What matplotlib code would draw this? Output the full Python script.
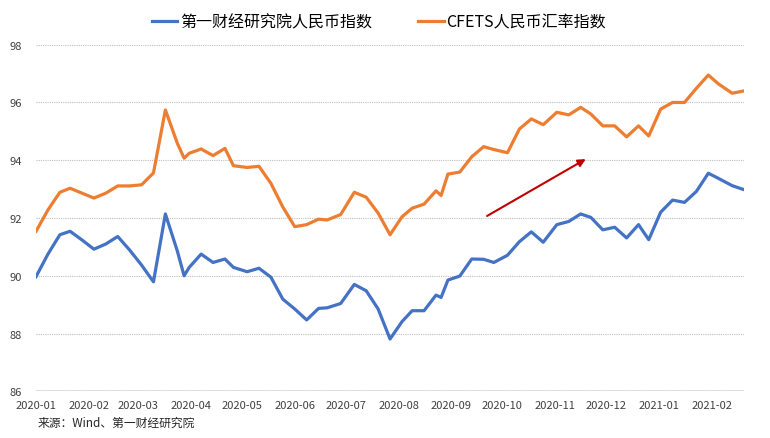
"""
人民币指数走势对比图
第一财经研究院人民币指数 vs CFETS人民币汇率指数
"""

import matplotlib
matplotlib.use('Agg')
import matplotlib.pyplot as plt
import matplotlib.dates as mdates
import pandas as pd

plt.rcParams['font.family'] = ['Noto Sans CJK SC', 'DejaVu Sans']

dates = [
    '2020-01-02', '2020-01-09', '2020-01-16', '2020-01-22', '2020-01-29',
    '2020-02-05', '2020-02-12', '2020-02-19', '2020-02-26', '2020-03-04',
    '2020-03-11', '2020-03-18', '2020-03-25', '2020-03-29', '2020-04-01',
    '2020-04-08', '2020-04-15', '2020-04-22', '2020-04-27', '2020-05-05',
    '2020-05-12', '2020-05-19', '2020-05-26', '2020-06-02', '2020-06-09',
    '2020-06-16', '2020-06-21', '2020-06-29', '2020-07-07', '2020-07-14',
    '2020-07-21', '2020-07-28', '2020-08-04', '2020-08-10', '2020-08-17',
    '2020-08-24', '2020-08-27', '2020-08-31', '2020-09-07', '2020-09-14',
    '2020-09-21', '2020-09-27', '2020-10-05', '2020-10-12', '2020-10-19',
    '2020-10-26', '2020-11-03', '2020-11-10', '2020-11-17', '2020-11-23',
    '2020-11-30', '2020-12-07', '2020-12-14', '2020-12-21', '2020-12-27',
    '2021-01-03', '2021-01-10', '2021-01-17', '2021-01-24', '2021-01-31',
    '2021-02-06', '2021-02-14', '2021-02-21',
]

# 第一财经研究院人民币指数
yicai_index = [
    89.97, 90.75, 91.42, 91.54, 91.24, 90.92, 91.10, 91.36, 90.89, 90.37,
    89.79, 92.14, 90.86, 90.00, 90.29, 90.75, 90.46, 90.58, 90.29, 90.14,
    90.26, 89.95, 89.19, 88.85, 88.47, 88.87, 88.89, 89.04, 89.70, 89.48,
    88.85, 87.81, 88.41, 88.79, 88.79, 89.33, 89.25, 89.85, 89.99, 90.58,
    90.57, 90.46, 90.71, 91.18, 91.52, 91.16, 91.77, 91.88, 92.14, 92.02,
    91.59, 91.68, 91.31, 91.77, 91.25, 92.20, 92.62, 92.54, 92.92, 93.55,
    93.37, 93.12, 92.98,
]

# CFETS人民币汇率指数
cfets_index = [
    91.54, 92.28, 92.89, 93.03, 92.86, 92.69, 92.86, 93.11, 93.11, 93.15,
    93.56, 95.74, 94.59, 94.07, 94.24, 94.39, 94.16, 94.41, 93.81, 93.75,
    93.79, 93.20, 92.38, 91.70, 91.77, 91.96, 91.93, 92.12, 92.89, 92.72,
    92.17, 91.42, 92.04, 92.34, 92.48, 92.94, 92.78, 93.52, 93.59, 94.12,
    94.47, 94.37, 94.26, 95.08, 95.43, 95.23, 95.66, 95.57, 95.83, 95.60,
    95.19, 95.19, 94.81, 95.19, 94.84, 95.77, 96.00, 96.00, 96.49, 96.95,
    96.64, 96.32, 96.40,
]

series_names = ['第一财经研究院人民币指数', 'CFETS人民币汇率指数']

# 趋势箭头（起点、终点）
arrow_dates = ['2020-09-23', '2020-11-20']
arrow_values = [92.07, 94.04]

y_ticks = [86, 88, 90, 92, 94, 96, 98]
source_text = '来源：Wind、第一财经研究院'


def main():
    x = pd.to_datetime(dates)

    fig = plt.figure(figsize=(7.7, 4.39), dpi=100)
    ax = fig.add_axes([0.0468, 0.1064, 0.9195, 0.7895])

    ax.plot(x, yicai_index, color='#4472C4', linewidth=2.3,
            label=series_names[0], solid_joinstyle='round')
    ax.plot(x, cfets_index, color='#ED7D31', linewidth=2.3,
            label=series_names[1], solid_joinstyle='round')

    # 红色趋势箭头
    a0, a1 = pd.to_datetime(arrow_dates)
    ax.annotate('', xy=(a1, arrow_values[1]), xytext=(a0, arrow_values[0]),
                arrowprops=dict(arrowstyle='-|>', color='#C00000', lw=1.5,
                                mutation_scale=11, shrinkA=0, shrinkB=0))

    # 坐标轴
    ax.set_xlim(x[0], x[-1])
    ax.set_ylim(86, 98)
    ax.set_yticks(y_ticks)
    ax.yaxis.grid(True, linestyle=(0, (1, 1)), color='#BFBFBF', linewidth=0.8)
    ax.axhline(86, color='#D9D9D9', linewidth=1.2)
    for s in ax.spines.values():
        s.set_visible(False)

    ax.xaxis.set_major_locator(mdates.MonthLocator(bymonthday=2))
    ax.xaxis.set_major_formatter(mdates.DateFormatter('%Y-%m'))
    ax.tick_params(axis='both', length=0, labelsize=8, colors='#404040')
    ax.tick_params(axis='y', pad=10)
    ax.tick_params(axis='x', pad=6)

    # 图例
    fig.legend(loc='upper center', bbox_to_anchor=(0.492, 1.0), ncol=2,
               frameon=False, fontsize=11.5, handlelength=1.6,
               handletextpad=0.15, columnspacing=2.9)

    fig.text(38 / 770, 1 - 423 / 439, source_text, fontsize=8.5,
             color='#262626', va='center', ha='left')

    fig.savefig('out.png', dpi=100, facecolor='white')
    plt.close(fig)


if __name__ == '__main__':
    main()
